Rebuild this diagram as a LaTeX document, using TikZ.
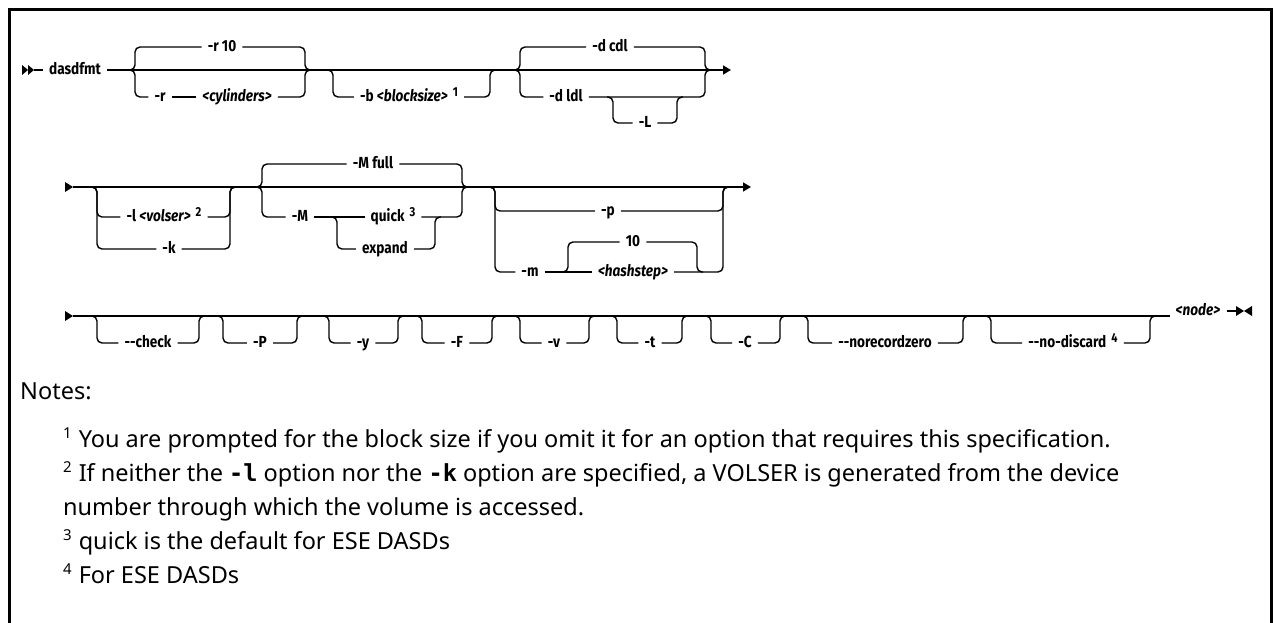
\documentclass[tikz,border=0pt]{standalone}
\usepackage{fontspec}
\setmainfont{Noto Sans}
\newfontfamily\railfont{Fira Sans}[FakeStretch=0.85]
\newfontfamily\codefont{DejaVu Sans Mono}
\usetikzlibrary{arrows.meta}
\newcommand{\dbldash}{-\kern0pt-}
\newcommand{\fnref}[1]{\hspace{5pt}\raisebox{5pt}{\fontsize{13}{13}\selectfont #1}}
\newcommand{\nsup}[1]{\raisebox{9pt}{\fontsize{15}{15}\selectfont #1}\hspace{7pt}}

\begin{document}
\begin{tikzpicture}[
    x=1pt, y=-1pt,
    >={Triangle[length=8pt,width=9pt]},
    rail/.style={line width=1.4pt, rounded corners=5pt},
    syn/.style={
        font=\railfont\bfseries\fontsize{16}{16}\selectfont,
        inner xsep=6pt,
        inner ysep=0pt,
        text height=12pt,
        text depth=3.5pt
    },
    fnote/.style={anchor=base west, inner sep=0pt, font=\fontsize{23.5}{23.5}\selectfont}
]
    \useasboundingbox (0,0) rectangle (1274,623);

    % frame, open at the bottom
    \coordinate (fBL) at (9.5,623);
    \coordinate (fTR) at (1271.5,9.5);
    \coordinate (fBR) at (1271.5,623);
    \draw[line width=3pt] (fBL) |- (fTR) -- (fBR);

    % ---------------- first line ----------------
    \fill (22,65) -- (28,70) -- (22,75) -- cycle;
    \fill (28,65) -- (34,70) -- (28,75) -- cycle;
    \coordinate (s1) at (34,70);
    \node[syn] (cmd) at (75,70) {dasdfmt};
    \coordinate (e1) at (731,70);
    \draw[rail] (s1) -- (cmd.west);
    \draw[rail,->] (cmd.east) -- (e1);

    % -r
    \coordinate (aL) at (135,70);
    \coordinate (aR) at (305,70);
    \node[syn] (rTen) at (222,47) {-r 10};
    \node[syn] (rOpt) at (160,97) {-r};
    \node[syn] (rCyl) at (237,97) {\textit{<cylinders>}};
    \draw[rail] ([xshift=-6pt]aL) -| (aL |- rTen) -- (rTen.west);
    \draw[rail] (rTen.east) -- (aR |- rTen) |- ([xshift=6pt]aR);
    \draw[rail] ([xshift=-6pt]aL) -| (aL |- rOpt) -- (rOpt.west);
    \draw[rail] (rOpt.east) -- (rCyl.west);
    \draw[rail] (rCyl.east) -- (aR |- rCyl) |- ([xshift=6pt]aR);

    % -b
    \coordinate (bL) at (333,70);
    \coordinate (bR) at (490,70);
    \node[syn] (bSize) at (409,97) {-b \textit{<blocksize>}\fnref{1}};
    \draw[rail] ([xshift=-6pt]bL) -| (bL |- bSize) -- (bSize.west);
    \draw[rail] (bSize.east) -- (bR |- bSize) |- ([xshift=6pt]bR);

    % -d
    \coordinate (cL) at (520,70);
    \coordinate (cR) at (705,70);
    \node[syn] (dCdl) at (610,47) {-d cdl};
    \node[syn] (dLdl) at (566,97) {-d ldl};
    \draw[rail] ([xshift=-6pt]cL) -| (cL |- dCdl) -- (dCdl.west);
    \draw[rail] (dCdl.east) -- (cR |- dCdl) |- ([xshift=6pt]cR);
    \draw[rail] ([xshift=-6pt]cL) -| (cL |- dLdl) -- (dLdl.west);
    \draw[rail] (dLdl.east) -- (cR |- dLdl) |- ([xshift=6pt]cR);
    \coordinate (dL) at (613,97);
    \coordinate (dR) at (677,97);
    \node[syn] (optL) at (645,123) {-L};
    \draw[rail] ([xshift=-6pt]dL) -| (dL |- optL) -- (optL.west);
    \draw[rail] (optL.east) -- (dR |- optL) |- ([xshift=6pt]dR);

    % ---------------- second line ----------------
    \fill (65,182) -- (73,187) -- (65,192) -- cycle;
    \coordinate (s2) at (73,187);
    \coordinate (e2) at (751,187);
    \draw[rail,->] (s2) -- (e2);

    % -l / -k
    \coordinate (gL) at (97,187);
    \coordinate (gR) at (230,187);
    \node[syn] (lVol) at (164,217) {-l \textit{<volser>}\fnref{2}};
    \node[syn] (kOpt) at (169,249) {-k};
    \draw[rail] ([xshift=-6pt]gL) -| (gL |- lVol) -- (lVol.west);
    \draw[rail] (lVol.east) -- (gR |- lVol) |- ([xshift=6pt]gR);
    \draw[rail] ([xshift=-6pt]gL) -| (gL |- kOpt) -- (kOpt.west);
    \draw[rail] (kOpt.east) -- (gR |- kOpt) |- ([xshift=6pt]gR);

    % -M
    \coordinate (eL) at (262,187);
    \coordinate (eR) at (462,187);
    \node[syn] (mFull) at (373,164) {-M full};
    \node[syn] (mOpt) at (300,217) {-M};
    \node[syn] (mQuick) at (393,217) {quick\fnref{3}};
    \node[syn] (mExp) at (385,249) {expand};
    \draw[rail] ([xshift=-6pt]eL) -| (eL |- mFull) -- (mFull.west);
    \draw[rail] (mFull.east) -- (eR |- mFull) |- ([xshift=6pt]eR);
    \draw[rail] ([xshift=-6pt]eL) -| (eL |- mOpt) -- (mOpt.west);
    \draw[rail] (mOpt.east) -- (mQuick.west);
    \draw[rail] (mQuick.east) -- (eR |- mQuick) |- ([xshift=6pt]eR);
    \coordinate (fL) at (337,217);
    \coordinate (fR) at (435,217);
    \draw[rail] ([xshift=-6pt]fL) -| (fL |- mExp) -- (mExp.west);
    \draw[rail] (mExp.east) -- (fR |- mExp) |- ([xshift=6pt]fR);

    % -p / -m
    \coordinate (pL) at (495,187);
    \coordinate (pR) at (723,187);
    \node[syn] (pOpt) at (608,211) {-p};
    \node[syn] (mHash) at (530,272) {-m};
    \node[syn] (hTen) at (633,242) {10};
    \node[syn] (hStep) at (633,272) {\textit{<hashstep>}};
    \draw[rail] ([xshift=-6pt]pL) -| (pL |- pOpt) -- (pOpt.west);
    \draw[rail] (pOpt.east) -- (pR |- pOpt) |- ([xshift=6pt]pR);
    \draw[rail] ([xshift=-6pt]pL) -| (pL |- mHash) -- (mHash.west);
    \draw[rail] (mHash.east) -- (hStep.west);
    \draw[rail] (hStep.east) -- (pR |- hStep) |- ([xshift=6pt]pR);
    \coordinate (nL) at (568,272);
    \coordinate (nR) at (697,272);
    \draw[rail] ([xshift=-6pt]nL) -| (nL |- hTen) -- (hTen.west);
    \draw[rail] (hTen.east) -- (nR |- hTen) |- ([xshift=6pt]nR);

    % ---------------- third line ----------------
    \fill (65,311) -- (73,316) -- (65,321) -- cycle;
    \coordinate (s3) at (73,316);
    \node[syn] (nodeArg) at (1198,311) {\textit{<node>}};
    \coordinate (e3) at (1236,311);
    \draw[rail] (s3) -- (nodeArg.west |- s3);
    \draw[rail] (nodeArg.east) -- (e3);
    \fill (1236,306) -- (1244,311) -- (1236,316) -- cycle;
    \fill (1252,306) -- (1244,311) -- (1252,316) -- cycle;

    \coordinate (chkL) at (97,316);
    \coordinate (chkR) at (199,316);
    \node[syn] (oCheck) at (148,343) {\dbldash check};
    \draw[rail] ([xshift=-6pt]chkL) -| (chkL |- oCheck) -- (oCheck.west);
    \draw[rail] (oCheck.east) -- (chkR |- oCheck) |- ([xshift=6pt]chkR);

    \coordinate (bigPL) at (223,316);
    \coordinate (bigPR) at (297,316);
    \node[syn] (oBigP) at (260,343) {-P};
    \draw[rail] ([xshift=-6pt]bigPL) -| (bigPL |- oBigP) -- (oBigP.west);
    \draw[rail] (oBigP.east) -- (bigPR |- oBigP) |- ([xshift=6pt]bigPR);

    \coordinate (yL) at (329,316);
    \coordinate (yR) at (398,316);
    \node[syn] (oY) at (363,343) {-y};
    \draw[rail] ([xshift=-6pt]yL) -| (yL |- oY) -- (oY.west);
    \draw[rail] (oY.east) -- (yR |- oY) |- ([xshift=6pt]yR);

    \coordinate (bigFL) at (422,316);
    \coordinate (bigFR) at (492,316);
    \node[syn] (oBigF) at (457,343) {-F};
    \draw[rail] ([xshift=-6pt]bigFL) -| (bigFL |- oBigF) -- (oBigF.west);
    \draw[rail] (oBigF.east) -- (bigFR |- oBigF) |- ([xshift=6pt]bigFR);

    \coordinate (vL) at (520,316);
    \coordinate (vR) at (589,316);
    \node[syn] (oV) at (554,343) {-v};
    \draw[rail] ([xshift=-6pt]vL) -| (vL |- oV) -- (oV.west);
    \draw[rail] (oV.east) -- (vR |- oV) |- ([xshift=6pt]vR);

    \coordinate (tL) at (617,316);
    \coordinate (tR) at (682,316);
    \node[syn] (oT) at (650,343) {-t};
    \draw[rail] ([xshift=-6pt]tL) -| (tL |- oT) -- (oT.west);
    \draw[rail] (oT.east) -- (tR |- oT) |- ([xshift=6pt]tR);

    \coordinate (bigCL) at (711,316);
    \coordinate (bigCR) at (780,316);
    \node[syn] (oBigC) at (745,343) {-C};
    \draw[rail] ([xshift=-6pt]bigCL) -| (bigCL |- oBigC) -- (oBigC.west);
    \draw[rail] (oBigC.east) -- (bigCR |- oBigC) |- ([xshift=6pt]bigCR);

    \coordinate (recL) at (808,316);
    \coordinate (recR) at (963,316);
    \node[syn] (oRec) at (885,343) {\dbldash norecordzero};
    \draw[rail] ([xshift=-6pt]recL) -| (recL |- oRec) -- (oRec.west);
    \draw[rail] (oRec.east) -- (recR |- oRec) |- ([xshift=6pt]recR);

    \coordinate (discL) at (991,316);
    \coordinate (discR) at (1150,316);
    \node[syn] (oDisc) at (1073,343) {\dbldash no-discard\fnref{4}};
    \draw[rail] ([xshift=-6pt]discL) -| (discL |- oDisc) -- (oDisc.west);
    \draw[rail] (oDisc.east) -- (discR |- oDisc) |- ([xshift=6pt]discR);

    % ---------------- notes ----------------
    \node[fnote] (notesHd) at (20,399) {Notes:};
    \node[fnote] (note1) at (63,447)
        {\nsup{1}You are prompted for the block size if you omit it for an option that requires this specification.};
    \node[fnote] (note2) at (63,481)
        {\nsup{2}If neither the {\codefont\bfseries -l} option nor the {\codefont\bfseries -k} option are specified, a VOLSER is generated from the device};
    \node[fnote] (note2b) at (63,515) {number through which the volume is accessed.};
    \node[fnote] (note3) at (63,549) {\nsup{3}quick is the default for ESE DASDs};
    \node[fnote] (note4) at (63,583) {\nsup{4}For ESE DASDs};
\end{tikzpicture}
\end{document}
